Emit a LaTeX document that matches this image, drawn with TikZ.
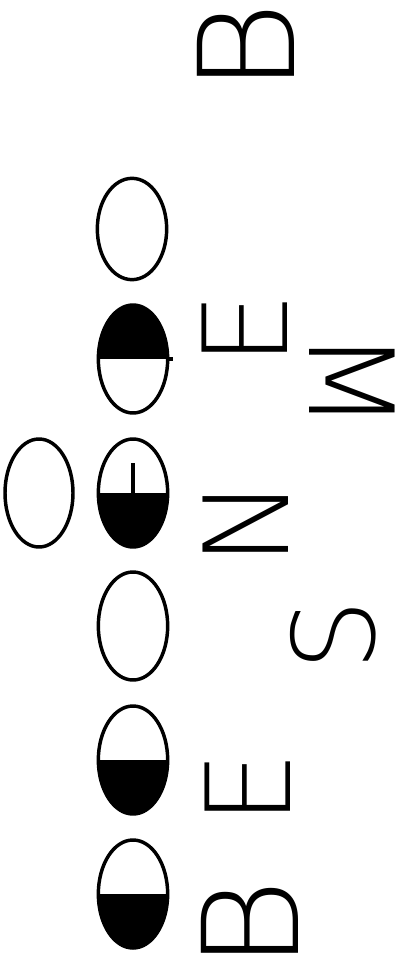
\documentclass[tikz,border=0pt]{standalone}
\usepackage{fontspec}
\setmainfont{DejaVu Sans ExtraLight}
\usetikzlibrary{shapes.geometric}

\begin{document}
\begin{tikzpicture}[x=0.75pt, y=-0.75pt,
    moon/.style={ellipse, draw, line width=2.6pt, inner sep=0pt,
                 minimum width=52pt, minimum height=81pt},
    topdark/.style={path picture={\fill (path picture bounding box.west)
                 rectangle (path picture bounding box.north east);}},
    lowdark/.style={path picture={\fill (path picture bounding box.south west)
                 rectangle (path picture bounding box.east);}},
    letter/.style={rotate=90, inner sep=0pt,
                 font=\fontsize{88pt}{88pt}\selectfont}
]
\useasboundingbox (0,0) rectangle (397,973);

% phases, top to bottom
\node[moon, minimum height=76pt]   (m1) at (132,229) {};
\node[moon, topdark]               (m2) at (133,359) {};
\node[moon, minimum width=51pt]    (m3) at (39,493)  {};
\node[moon, lowdark]               (m4) at (133,493) {};
\node[moon]                        (m5) at (133,626) {};
\node[moon, lowdark]               (m6) at (133,760) {};
\node[moon, lowdark]               (m7) at (133,894) {};
\draw[line width=3pt] (m4.center) -- ++(0,-30);
\draw[line width=3pt] (m2.east) -- ++(4,0);

% letters
\node[letter, font=\fontsize{100pt}{100pt}\selectfont]
    (b1) at (246,48) {\scalebox{1.05}[1]{B}};
\node[letter]                  (e1) at (245,329) {E};
\node[letter, rotate=180]      (w1) at (352,381) {M};
\node[letter]                  (n1) at (246,523) {N};
\node[letter, font=\fontsize{85pt}{85pt}\selectfont]
    (s1) at (333,636) {S};
\node[letter]                  (e2) at (248,788) {E};
\node[letter, font=\fontsize{100pt}{100pt}\selectfont]
    (b2) at (250,925) {\scalebox{1.05}[1]{B}};
\end{tikzpicture}
\end{document}
